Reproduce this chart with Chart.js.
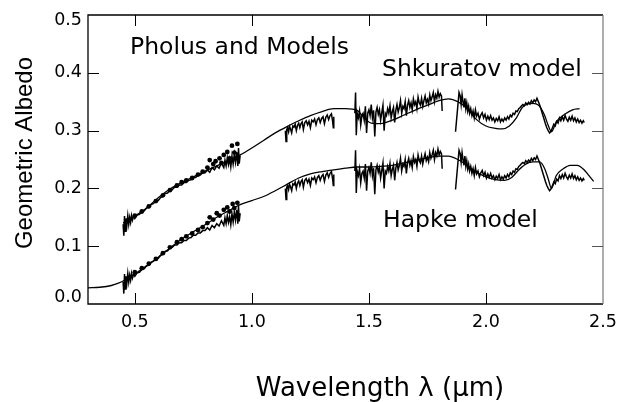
<!DOCTYPE html>
<html>
<head>
<meta charset="utf-8">
<script src="https://cdn.jsdelivr.net/npm/chart.js@4.4.1/dist/chart.umd.min.js"></script>
<style>
html,body{margin:0;padding:0;background:#fff;}
#wrap{width:618px;height:402px;position:relative;}
</style>
</head>
<body>
<div id="wrap"><canvas id="c" width="618" height="402"></canvas></div>
<script>
// ---------- axis ticks ----------
const xTickValues = [0.5, 1.0, 1.5, 2.0, 2.5];
const yTickValues = [0.0, 0.1, 0.2, 0.3, 0.4, 0.5];

// ---------- Shkuratov model (upper smooth curve) ----------
const shkWl  = [0.45,0.50,0.55,0.60,0.65,0.70,0.75,0.80,0.85,0.90,0.95,1.00,1.05,1.10,1.15,1.20,1.25,1.30,1.35,1.40,1.45,
                1.48,1.51,1.55,1.60,1.65,1.70,1.75,1.80,1.84,1.88,1.92,1.96,2.00,2.04,2.07,2.10,2.13,2.155,2.18,2.20,2.225,2.25,2.265,2.28,2.30,2.34,2.37,2.40];
const shkAlb = [0.140,0.152,0.166,0.184,0.199,0.210,0.220,0.230,0.239,0.248,0.258,0.270,0.283,0.296,0.307,0.317,0.326,0.333,0.338,0.338,0.335,
                0.322,0.313,0.312,0.318,0.327,0.336,0.344,0.352,0.355,0.350,0.338,0.319,0.308,0.304,0.303,0.308,0.322,0.340,0.346,0.347,0.344,0.327,0.310,0.298,0.315,0.329,0.336,0.338];

// ---------- Hapke model (lower smooth curve) ----------
const hapWl  = [0.30,0.35,0.40,0.43,0.46,0.50,0.55,0.60,0.65,0.70,0.75,0.80,0.85,0.90,0.95,1.00,1.05,1.10,1.15,1.20,1.25,1.30,1.35,1.40,1.45,1.50,1.55,1.60,1.65,1.70,1.75,1.80,
                1.84,1.88,1.92,1.96,2.00,2.04,2.08,2.11,2.14,2.17,2.20,2.23,2.25,2.265,2.28,2.30,2.33,2.36,2.39,2.42,2.44,2.46];
const hapAlb = [0.028,0.029,0.032,0.036,0.042,0.052,0.066,0.081,0.097,0.112,0.125,0.137,0.150,0.161,0.172,0.179,0.186,0.196,0.207,0.218,0.225,0.229,0.232,0.235,0.237,0.237,0.238,0.240,0.244,0.249,0.253,0.256,
                0.256,0.250,0.240,0.228,0.220,0.215,0.214,0.219,0.232,0.242,0.246,0.246,0.235,0.218,0.200,0.222,0.234,0.240,0.240,0.232,0.222,0.212];

// ---------- Pholus spectrum: visible segment ----------
const visWl = [0.450,0.453,0.456,0.459,0.462,0.466,0.470,0.474,0.478,0.482,0.486,0.490,0.495,0.500,
  0.510,0.520,0.530,0.540,0.550,0.560,0.570,0.580,0.590,0.600,0.610,0.620,0.630,0.640,0.650,0.660,0.670,0.680,0.690,0.700,
  0.710,0.720,0.730,0.740,0.750,0.760,0.770,0.780,0.790,0.800,0.810,0.820,0.830,0.840,0.850,0.860,0.870,0.880,
  0.885,0.890,0.895,0.900,0.905,0.910,0.915,0.920,0.925,0.930,0.935,0.940,0.943,0.946,0.950];
const visUpper = [0.138,0.118,0.152,0.126,0.148,0.136,0.153,0.138,0.150,0.141,0.153,0.145,0.152,0.148,
  0.154,0.155,0.160,0.161,0.166,0.167,0.172,0.174,0.178,0.179,0.184,0.186,0.191,0.192,0.197,0.198,0.202,0.202,0.206,0.206,
  0.210,0.210,0.214,0.215,0.219,0.219,0.223,0.223,0.227,0.227,0.232,0.228,0.236,0.232,0.239,0.235,0.244,0.236,
  0.249,0.239,0.253,0.241,0.251,0.237,0.256,0.242,0.259,0.245,0.263,0.239,0.270,0.243,0.257];
const visLower = [0.038,0.018,0.052,0.026,0.048,0.036,0.053,0.038,0.050,0.041,0.053,0.045,0.052,0.048,
  0.054,0.055,0.060,0.061,0.066,0.067,0.072,0.074,0.078,0.079,0.084,0.086,0.091,0.092,0.097,0.098,0.102,0.102,0.106,0.106,
  0.110,0.110,0.114,0.115,0.119,0.119,0.123,0.123,0.127,0.127,0.132,0.128,0.136,0.132,0.139,0.135,0.144,0.136,
  0.149,0.139,0.153,0.141,0.151,0.137,0.156,0.142,0.159,0.145,0.163,0.139,0.170,0.143,0.157];

// ---------- J band ----------
const jWl = [1.143,1.146,1.149,1.153,1.157,1.161,1.165,1.170,1.175,1.180,1.185,1.190,1.195,1.200,1.205,1.210,1.215,1.220,
  1.226,1.232,1.238,1.244,1.250,1.256,1.262,1.268,1.274,1.280,1.286,1.292,1.298,1.304,1.310,1.316,1.322,1.328,1.334,1.340,1.345,1.348,1.350];
const jUpper = [0.300,0.281,0.302,0.305,0.298,0.307,0.303,0.296,0.308,0.306,0.311,0.300,0.309,0.313,0.305,0.312,0.315,0.302,
  0.314,0.317,0.310,0.316,0.305,0.318,0.315,0.320,0.310,0.319,0.322,0.314,0.321,0.324,0.312,0.323,0.327,0.319,0.326,0.329,0.316,0.305,0.324];
const jLower = [0.200,0.181,0.202,0.205,0.198,0.207,0.203,0.196,0.208,0.206,0.211,0.200,0.209,0.213,0.205,0.212,0.215,0.202,
  0.214,0.217,0.210,0.216,0.205,0.218,0.215,0.220,0.210,0.219,0.222,0.214,0.221,0.224,0.212,0.223,0.227,0.219,0.226,0.229,0.216,0.205,0.224];

// ---------- H band ----------
const hWl = [1.440,1.443,1.446,1.450,1.455,1.460,1.465,1.470,1.475,1.480,1.485,1.490,1.495,1.500,1.505,1.510,1.515,1.520,1.525,1.530,
  1.535,1.540,1.545,1.550,1.555,1.560,1.565,1.570,1.575,1.580,1.585,1.590,1.595,1.600,1.605,1.610,1.615,1.620,1.625,1.630,
  1.635,1.640,1.645,1.650,1.655,1.660,1.665,1.670,1.675,1.680,1.685,1.690,1.695,1.700,1.705,1.710,1.715,1.720,1.725,1.730,
  1.735,1.740,1.745,1.750,1.755,1.760,1.765,1.770,1.775,1.780,1.785,1.790,1.795,1.800,1.805,1.810,1.813];
const hUpper = [0.330,0.366,0.292,0.330,0.322,0.334,0.310,0.326,0.330,0.318,0.342,0.296,0.330,0.336,0.326,0.345,0.322,0.335,0.290,0.332,
  0.340,0.328,0.336,0.318,0.331,0.344,0.300,0.330,0.326,0.338,0.330,0.343,0.322,0.333,0.340,0.314,0.335,0.345,0.332,0.340,
  0.352,0.330,0.342,0.338,0.350,0.326,0.344,0.352,0.340,0.348,0.336,0.355,0.345,0.350,0.338,0.358,0.348,0.344,0.356,0.342,
  0.352,0.360,0.348,0.354,0.346,0.362,0.352,0.358,0.366,0.350,0.362,0.356,0.368,0.358,0.364,0.360,0.334];
const hLower = [0.230,0.266,0.192,0.230,0.222,0.234,0.210,0.226,0.230,0.218,0.242,0.196,0.230,0.236,0.226,0.245,0.222,0.235,0.190,0.232,
  0.240,0.228,0.236,0.218,0.231,0.244,0.200,0.230,0.226,0.238,0.230,0.243,0.222,0.233,0.240,0.214,0.235,0.245,0.232,0.240,
  0.252,0.230,0.242,0.238,0.250,0.226,0.244,0.252,0.240,0.248,0.236,0.255,0.245,0.250,0.238,0.258,0.248,0.244,0.256,0.242,
  0.252,0.260,0.248,0.254,0.246,0.262,0.252,0.258,0.266,0.250,0.262,0.256,0.268,0.258,0.264,0.260,0.234];

// ---------- K band ----------
const kWl = [1.870,1.885,1.890,1.894,1.898,1.902,1.906,1.910,1.914,1.918,1.922,1.926,1.930,1.935,1.940,1.945,1.950,1.955,1.960,
  1.966,1.972,1.978,1.984,1.990,1.996,2.002,2.008,2.014,2.020,2.026,2.032,2.038,2.044,2.050,2.056,2.062,2.068,2.074,2.080,
  2.086,2.092,2.098,2.104,2.110,2.116,2.122,2.128,2.134,2.140,2.146,2.152,2.158,2.164,2.170,2.176,2.182,2.188,2.194,2.200,
  2.206,2.212,2.218,2.224,2.230,2.236,2.242,2.248,2.254,2.260,2.266,2.272,2.278,2.284,2.290,2.296,2.302,2.308,2.314,2.320,
  2.326,2.332,2.338,2.344,2.350,2.356,2.362,2.368,2.374,2.380,2.386,2.392,2.398,2.404,2.410,2.416,2.420];
const kUpper = [0.298,0.366,0.360,0.345,0.362,0.350,0.340,0.356,0.338,0.348,0.334,0.342,0.330,0.338,0.326,0.334,0.322,0.336,0.325,
  0.330,0.320,0.327,0.331,0.322,0.328,0.318,0.325,0.319,0.326,0.318,0.322,0.315,0.321,0.317,0.324,0.315,0.320,0.316,0.322,
  0.318,0.324,0.320,0.327,0.324,0.330,0.328,0.334,0.333,0.338,0.340,0.343,0.345,0.343,0.348,0.345,0.349,0.346,0.352,0.348,
  0.353,0.350,0.356,0.350,0.344,0.336,0.328,0.320,0.312,0.305,0.300,0.296,0.299,0.305,0.311,0.308,0.316,0.313,0.322,0.317,
  0.324,0.318,0.326,0.320,0.316,0.323,0.318,0.325,0.317,0.322,0.315,0.320,0.314,0.318,0.313,0.317,0.314];
const kLower = [0.198,0.266,0.260,0.245,0.262,0.250,0.240,0.256,0.238,0.248,0.234,0.242,0.230,0.238,0.226,0.234,0.222,0.236,0.225,
  0.230,0.220,0.227,0.231,0.222,0.228,0.218,0.225,0.219,0.226,0.218,0.222,0.215,0.221,0.217,0.224,0.215,0.220,0.216,0.222,
  0.218,0.224,0.220,0.227,0.224,0.230,0.228,0.234,0.233,0.238,0.240,0.243,0.245,0.243,0.248,0.245,0.249,0.246,0.252,0.248,
  0.253,0.250,0.256,0.250,0.244,0.236,0.228,0.220,0.212,0.205,0.200,0.196,0.199,0.205,0.211,0.208,0.216,0.213,0.222,0.217,
  0.224,0.218,0.226,0.220,0.216,0.223,0.218,0.225,0.217,0.222,0.215,0.220,0.214,0.218,0.213,0.217,0.214];

// ---------- photometric points ----------
const dotWlUpper  = [0.500,0.530,0.560,0.590,0.620,0.650,0.680,0.700,0.720,0.745,0.770,0.790,0.810,0.820,0.835,0.845,0.862,0.870,0.880,0.895,0.905,0.915,0.925,0.938];
const dotAlbUpper = [0.153,0.160,0.169,0.178,0.188,0.197,0.205,0.211,0.214,0.218,0.224,0.229,0.236,0.249,0.242,0.247,0.252,0.244,0.258,0.263,0.252,0.274,0.262,0.277];
const dotWlLower  = [0.500,0.530,0.560,0.590,0.620,0.650,0.680,0.700,0.720,0.745,0.770,0.790,0.810,0.820,0.835,0.850,0.862,0.880,0.895,0.905,0.918,0.925,0.938];
const dotAlbLower = [0.055,0.062,0.070,0.078,0.088,0.098,0.107,0.112,0.117,0.122,0.128,0.133,0.140,0.150,0.146,0.157,0.153,0.163,0.167,0.160,0.173,0.166,0.175];

// ---------- build tables ----------
function pts(wl, alb){ return wl.map((w,i)=>({x:w, y:alb[i]})); }
function joinSegments(segs){
  const out = [];
  segs.forEach((s,i)=>{ if(i>0){ out.push({x:s[0].x - 0.001, y:null}); } out.push(...s); });
  return out;
}
const upperSpectrum = joinSegments([pts(visWl,visUpper), pts(jWl,jUpper), pts(hWl,hUpper), pts(kWl,kUpper)]);
const lowerSpectrum = joinSegments([pts(visWl,visLower), pts(jWl,jLower), pts(hWl,hLower), pts(kWl,kLower)]);

const TICK_FONT = '17.5px "DejaVu Sans"';
const NOTE_FONT = '23.5px "DejaVu Sans"';

const decor = {
  id: 'decor',
  afterDraw(chart){
    const {ctx, chartArea:a, scales} = chart;
    const xs = scales.x, ys = scales.y;
    ctx.save();
    // frame
    ctx.strokeStyle = '#000';
    ctx.lineWidth = 1.3;
    ctx.beginPath();
    ctx.moveTo(a.right, a.top); ctx.lineTo(a.left, a.top);
    ctx.lineTo(a.left, a.bottom); ctx.lineTo(a.right, a.bottom);
    ctx.stroke();
    ctx.strokeStyle = '#777';
    ctx.lineWidth = 1.2;
    ctx.beginPath(); ctx.moveTo(a.right, a.top); ctx.lineTo(a.right, a.bottom); ctx.stroke();

    // inside ticks
    const TL = 11;
    ctx.strokeStyle = '#000'; ctx.lineWidth = 1;
    xTickValues.forEach(v=>{
      const px = Math.round(xs.getPixelForValue(v)) + 0.5;
      if (px > a.right - 2) return;
      ctx.beginPath();
      ctx.moveTo(px, a.bottom); ctx.lineTo(px, a.bottom - TL);
      ctx.moveTo(px, a.top); ctx.lineTo(px, a.top + TL);
      ctx.stroke();
    });
    yTickValues.forEach(v=>{
      const py = Math.round(ys.getPixelForValue(v)) + 0.5;
      if (py < a.top + 2 || py > a.bottom - 2) return;
      ctx.strokeStyle = '#000';
      ctx.beginPath(); ctx.moveTo(a.left, py); ctx.lineTo(a.left + TL, py); ctx.stroke();
      ctx.strokeStyle = '#555';
      ctx.beginPath(); ctx.moveTo(a.right, py); ctx.lineTo(a.right - TL, py); ctx.stroke();
    });

    // tick labels
    ctx.fillStyle = '#000';
    ctx.font = TICK_FONT;
    ctx.textAlign = 'center'; ctx.textBaseline = 'middle';
    xTickValues.forEach(v=>{
      ctx.fillText(v.toFixed(1), xs.getPixelForValue(v), a.bottom + 18.5);
    });
    ctx.textAlign = 'right';
    yTickValues.forEach(v=>{
      let py = ys.getPixelForValue(v);
      py = Math.max(a.top + 5.5, Math.min(a.bottom - 6.5, py));
      ctx.fillText(v.toFixed(1), a.left - 6, py);
    });

    // axis titles
    ctx.textBaseline = 'alphabetic';
    ctx.textAlign = 'center';
    ctx.font = '26px "DejaVu Sans"';
    ctx.fillText('Wavelength \u03bb (\u03bcm)', 380, 396);
    ctx.save();
    ctx.translate(32, 153);
    ctx.rotate(-Math.PI/2);
    ctx.font = '24px "Liberation Sans"';
    ctx.fillText('Geometric Albedo', 0, 0);
    ctx.restore();

    // annotations
    ctx.textAlign = 'left';
    ctx.font = NOTE_FONT;
    ctx.fillText('Pholus and Models', 130, 54);
    ctx.fillText('Shkuratov model', 382, 76);
    ctx.fillText('Hapke model', 383, 227);
    ctx.restore();
  }
};

new Chart(document.getElementById('c'), {
  type: 'line',
  data: {
    datasets: [
      { label:'Shkuratov model', data: pts(shkWl, shkAlb), borderColor:'#000', borderWidth:1.3, pointRadius:0, cubicInterpolationMode:'monotone', fill:false },
      { label:'Hapke model', data: pts(hapWl, hapAlb), borderColor:'#000', borderWidth:1.3, pointRadius:0, cubicInterpolationMode:'monotone', fill:false },
      { label:'Pholus (Shkuratov offset)', data: upperSpectrum, borderColor:'#000', borderWidth:1.5, pointRadius:0, tension:0, spanGaps:false, fill:false },
      { label:'Pholus (Hapke offset)', data: lowerSpectrum, borderColor:'#000', borderWidth:1.5, pointRadius:0, tension:0, spanGaps:false, fill:false },
      { label:'Photometry upper', data: pts(dotWlUpper, dotAlbUpper), showLine:false, pointRadius:2.4, pointBackgroundColor:'#000', pointBorderColor:'#000', pointBorderWidth:0 },
      { label:'Photometry lower', data: pts(dotWlLower, dotAlbLower), showLine:false, pointRadius:2.4, pointBackgroundColor:'#000', pointBorderColor:'#000', pointBorderWidth:0 }
    ]
  },
  options: {
    responsive: false,
    animation: false,
    devicePixelRatio: 1,
    parsing: true,
    layout: { padding: { left: 88, right: 15, top: 15, bottom: 98 } },
    plugins: { legend: { display:false }, tooltip: { enabled:false } },
    scales: {
      x: { type:'linear', min:0.3, max:2.5, display:false },
      y: { type:'linear', min:0.0, max:0.5, display:false }
    }
  },
  plugins: [decor]
});
</script>
</body>
</html>
